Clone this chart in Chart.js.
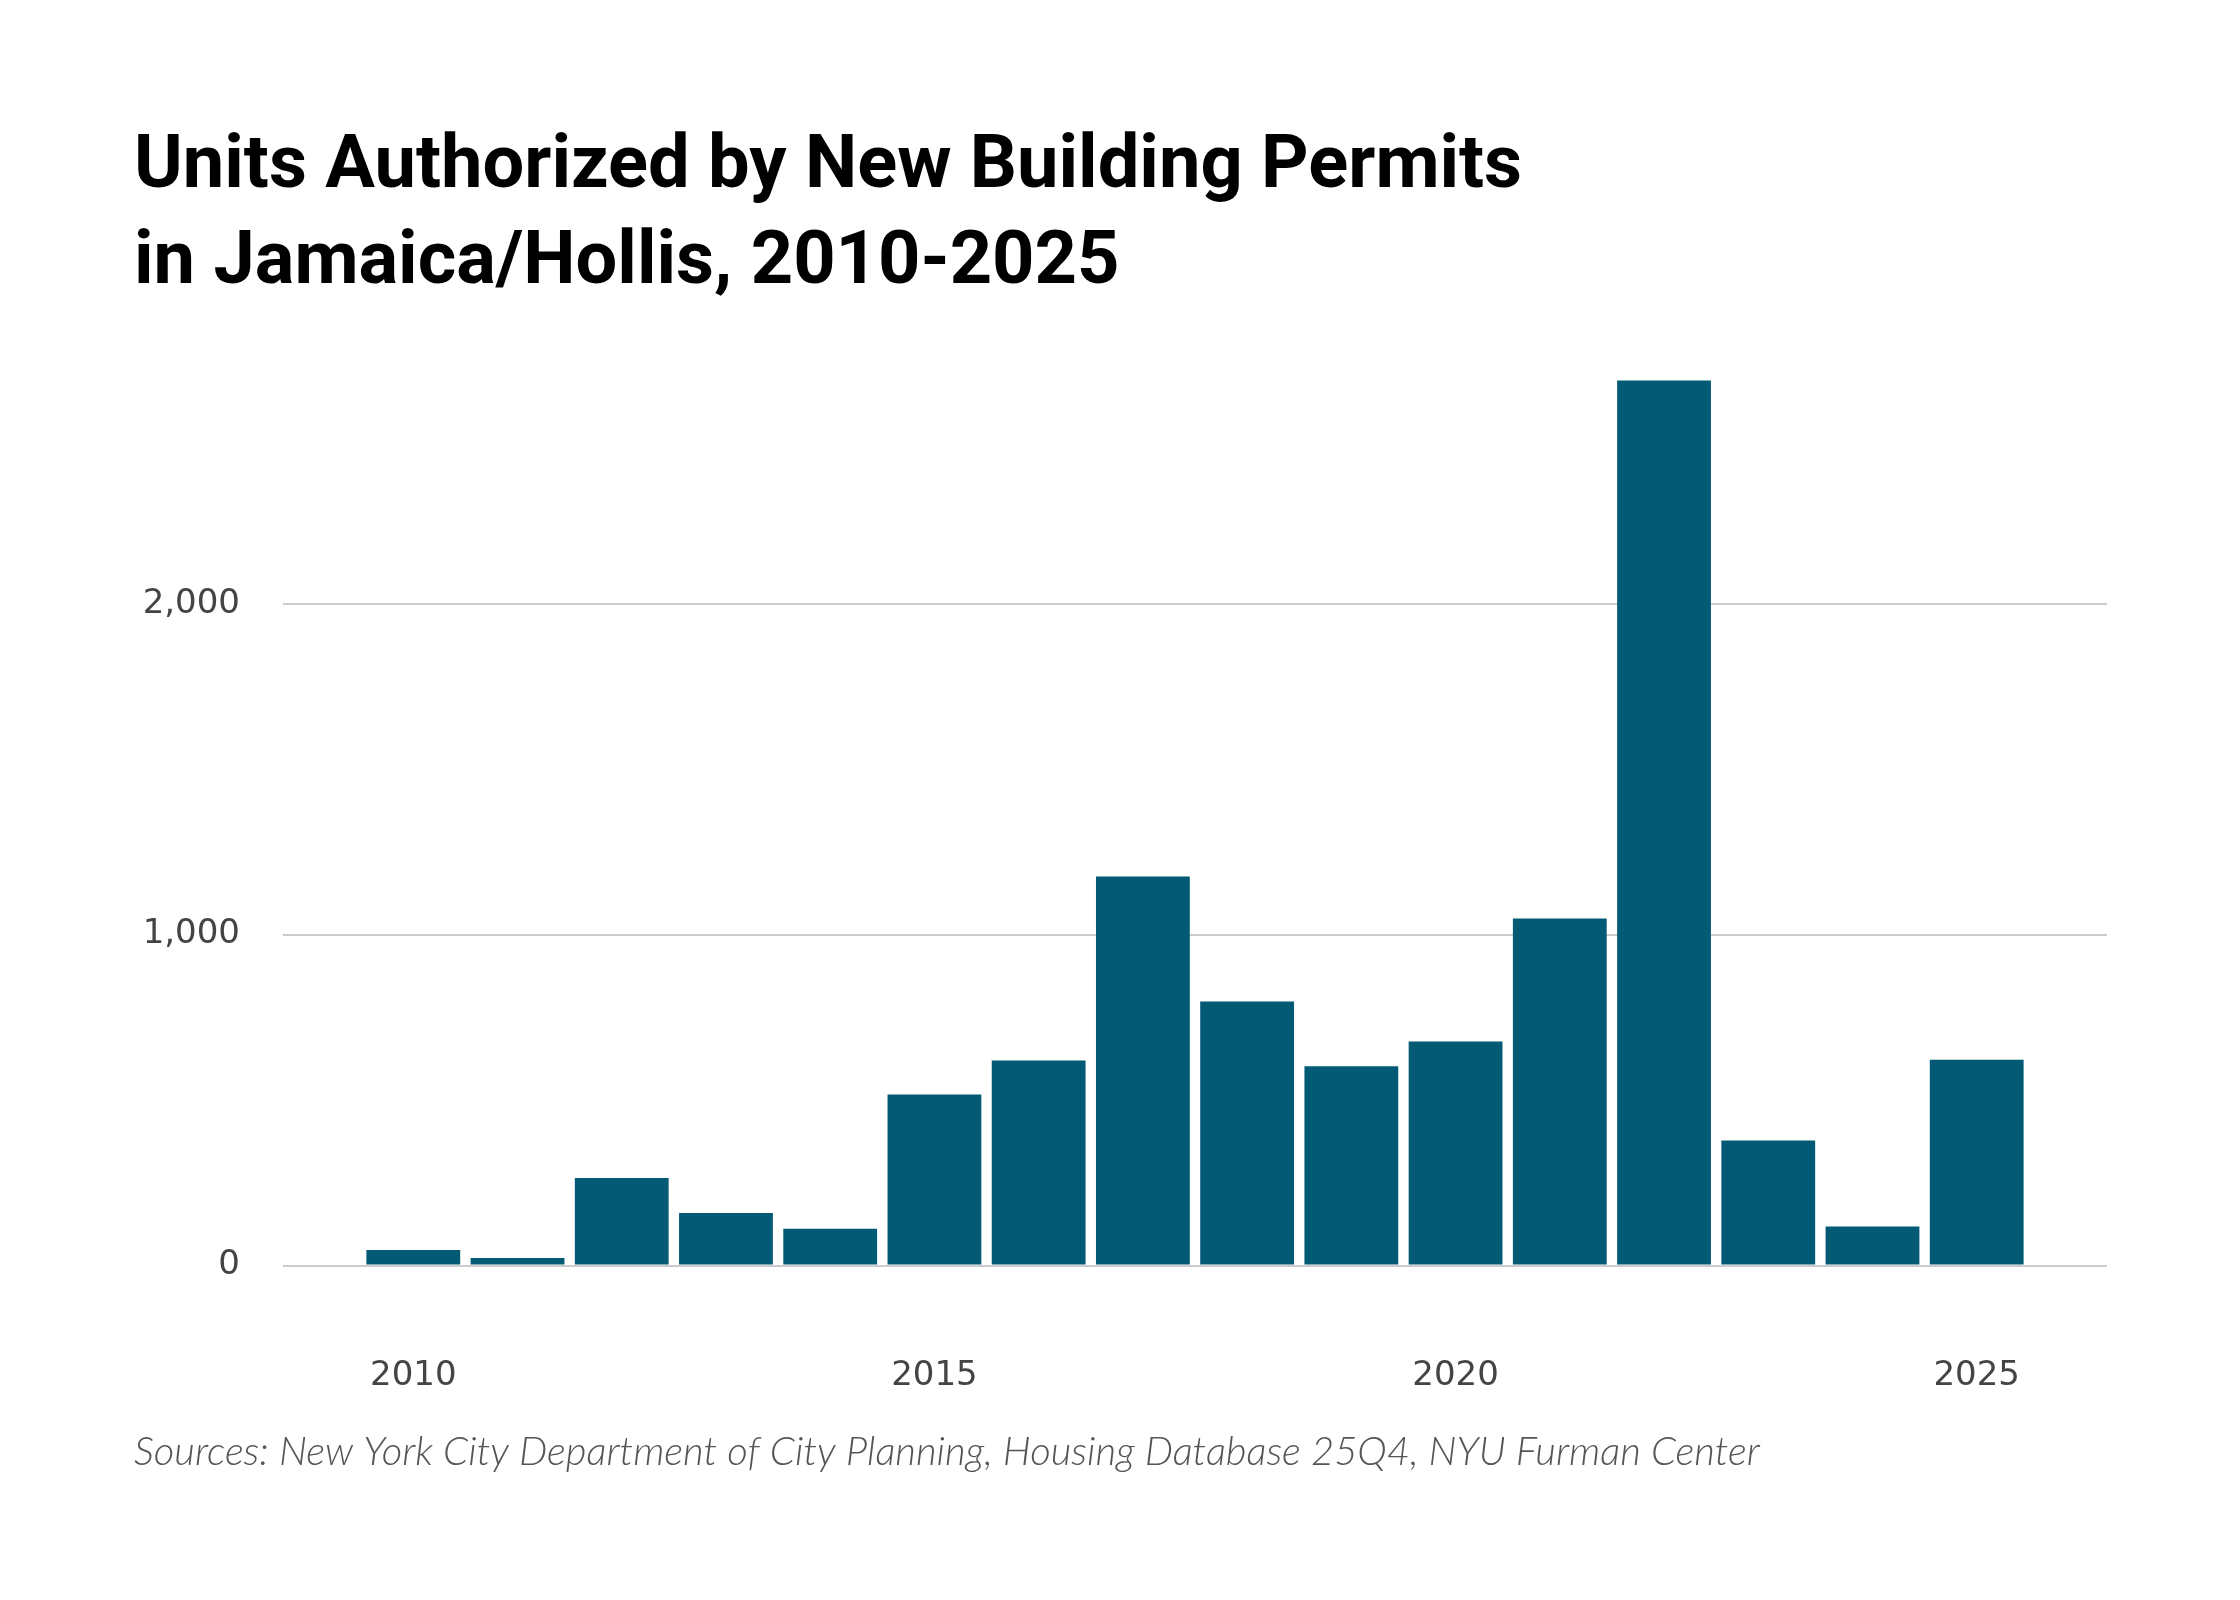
<!DOCTYPE html>
<html><head><meta charset="utf-8">
<script src="https://cdn.jsdelivr.net/npm/chart.js@4/dist/chart.umd.min.js"></script>
<style>html,body{margin:0;padding:0;background:#fff}</style>
</head><body>
<canvas id="c" width="2240" height="1600"></canvas>
<script>
const years = [2010,2011,2012,2013,2014,2015,2016,2017,2018,2019,2020,2021,2022,2023,2024,2025];
const units = [47,23,265,159,111,517,620,1176,798,602,677,1049,2674,378,118,622];
const yTicks = [0,1000,2000];
const xTicks = [2010,2015,2020,2025];
const titleLines = ['Units Authorized by New Building Permits','in Jamaica/Hollis, 2010-2025'];
const sourceText = 'Sources: New York City Department of City Planning, Housing Database 25Q4, NYU Furman Center';

const tickFont = {family:'DejaVu Sans', size:34};
new Chart(document.getElementById('c'), {
  type:'bar',
  data:{datasets:[{
    data: years.map((y,i)=>({x:y, y:units[i]})),
    backgroundColor:'#025a74', borderWidth:0,
    barPercentage:0.9, categoryPercentage:1
  }]},
  options:{
    responsive:false, animation:false, devicePixelRatio:1,
    layout:{padding:{left:134,right:133,top:0,bottom:0}},
    plugins:{
      legend:{display:false}, tooltip:{enabled:false},
      title:{display:true, text:titleLines, align:'start', color:'#000',
        font:{family:'Roboto', weight:'bold', size:74, lineHeight:96/74},
        padding:{top:120,bottom:60}},
      subtitle:{display:true, position:'bottom', text:sourceText, align:'start', color:'#555',
        font:{family:'Lato', style:'italic', weight:300, size:40, lineHeight:1.2},
        padding:{top:8,bottom:124}}
    },
    scales:{
      x:{type:'linear', min:2008.75, max:2026.25, offset:false,
        afterBuildTicks:s=>{s.ticks = xTicks.map(v=>({value:v}));},
        afterFit:s=>{s.height = 154.4;},
        grid:{display:false, drawTicks:false, offset:false}, border:{display:false},
        ticks:{color:'#444', font:tickFont, padding:90, maxRotation:0, callback:v=>String(v)}},
      y:{min:0, max:2700,
        afterBuildTicks:s=>{s.ticks = yTicks.map(v=>({value:v}));},
        afterFit:s=>{s.width = 149;},
        grid:{color:'#cccccc', lineWidth:2, drawTicks:false}, border:{display:false},
        ticks:{color:'#444', font:tickFont, padding:43, callback:v=>v.toLocaleString('en-US')}}
    }
  }
});
</script>
</body></html>
